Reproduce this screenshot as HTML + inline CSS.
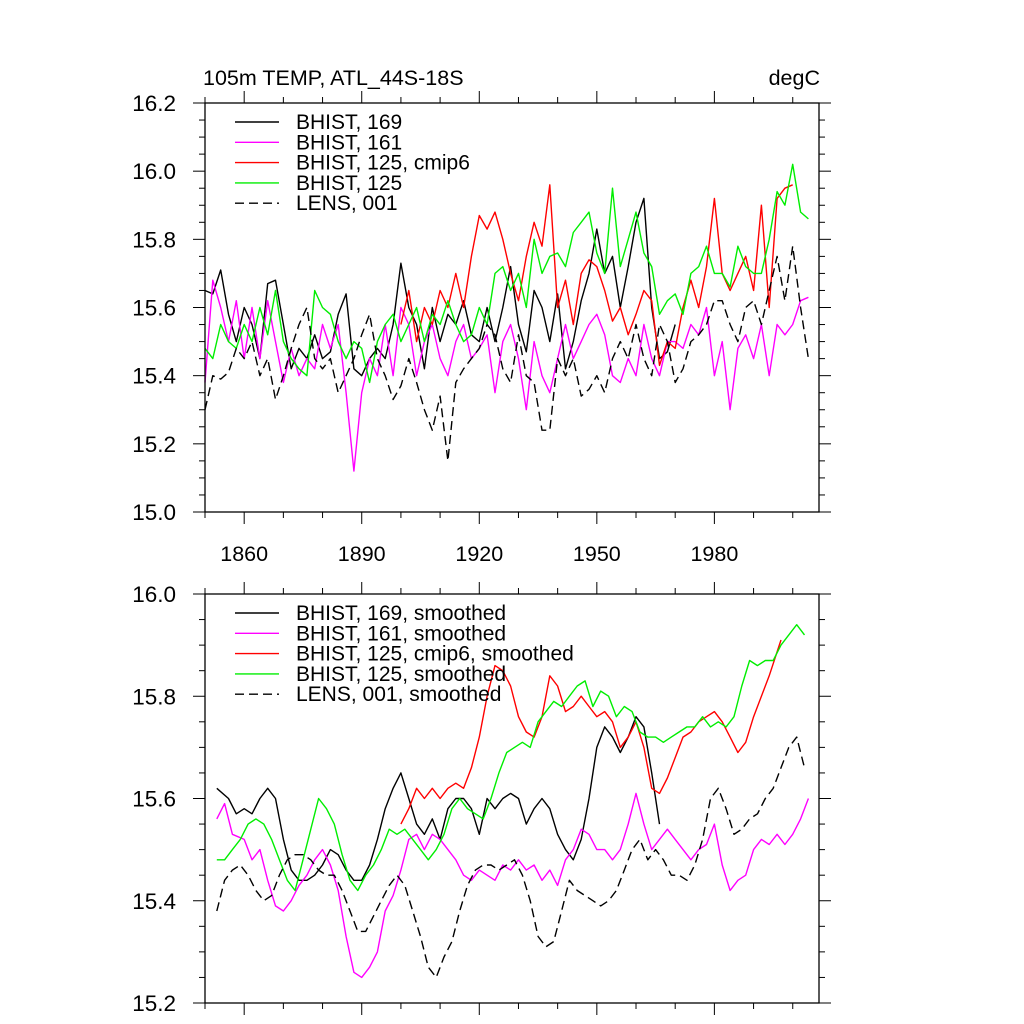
<!DOCTYPE html>
<html><head><meta charset="utf-8"><style>
html,body{margin:0;padding:0;background:#fff;}
svg{display:block;font-family:"Liberation Sans",sans-serif;}
</style></head><body>
<svg id="chart" width="1024" height="1024" viewBox="0 0 1024 1024" xmlns="http://www.w3.org/2000/svg">
<text x="203" y="85" font-size="21.5">105m TEMP, ATL_44S-18S</text>
<text x="820" y="85" font-size="21.5" text-anchor="end">degC</text>
<g id="top"></g>
<g id="bot"></g>
</svg>
<script>
// ---- data: top panel (annual, every 2 years) ----
const topYears = [];
for (let y = 1850; y <= 2004; y += 2) topYears.push(y);
const topBlack = [15.65,15.64,15.71,15.58,15.5,15.6,15.55,15.45,15.67,15.68,15.55,15.42,15.48,15.45,15.52,15.45,15.47,15.58,15.64,15.42,15.4,15.45,15.48,15.45,15.55,15.73,15.6,15.55,15.42,15.6,15.5,15.58,15.55,15.62,15.52,15.5,15.6,15.5,15.6,15.72,15.55,15.47,15.65,15.6,15.5,15.64,15.42,15.5,15.62,15.7,15.83,15.7,15.75,15.6,15.72,15.85,15.92,15.6,15.45,15.47,15.55];
const topMagenta = [15.38,15.68,15.6,15.5,15.62,15.45,15.6,15.45,15.62,15.5,15.38,15.48,15.4,15.45,15.42,15.55,15.48,15.55,15.35,15.12,15.35,15.45,15.4,15.55,15.4,15.6,15.55,15.4,15.5,15.55,15.45,15.4,15.5,15.55,15.45,15.48,15.52,15.35,15.5,15.55,15.45,15.3,15.5,15.4,15.35,15.45,15.55,15.45,15.5,15.55,15.58,15.52,15.4,15.38,15.45,15.4,15.55,15.45,15.4,15.5,15.5,15.48,15.55,15.52,15.6,15.4,15.5,15.3,15.48,15.52,15.45,15.55,15.4,15.55,15.52,15.55,15.62,15.63];
const redYears = [];
for (let y = 1900; y <= 2000; y += 2) redYears.push(y);
const topRed = [15.55,15.65,15.5,15.6,15.55,15.65,15.6,15.7,15.6,15.75,15.87,15.83,15.88,15.8,15.7,15.62,15.75,15.85,15.78,15.96,15.6,15.68,15.55,15.7,15.74,15.72,15.65,15.56,15.6,15.52,15.58,15.65,15.62,15.43,15.5,15.48,15.6,15.68,15.6,15.72,15.92,15.7,15.65,15.7,15.75,15.65,15.9,15.6,15.92,15.95,15.96];
const topGreen = [15.48,15.45,15.55,15.5,15.48,15.55,15.5,15.6,15.52,15.65,15.5,15.45,15.42,15.4,15.65,15.6,15.58,15.5,15.45,15.5,15.48,15.38,15.5,15.55,15.58,15.5,15.55,15.6,15.5,15.58,15.55,15.62,15.55,15.5,15.52,15.6,15.55,15.7,15.72,15.65,15.7,15.6,15.8,15.7,15.75,15.76,15.72,15.82,15.85,15.88,15.76,15.7,15.95,15.72,15.8,15.88,15.76,15.72,15.58,15.62,15.64,15.58,15.7,15.72,15.78,15.7,15.7,15.66,15.78,15.72,15.7,15.7,15.8,15.94,15.9,16.02,15.88,15.86];
const topLens = [15.3,15.4,15.39,15.41,15.48,15.45,15.5,15.4,15.45,15.33,15.4,15.48,15.55,15.6,15.45,15.42,15.45,15.35,15.4,15.45,15.52,15.58,15.45,15.4,15.33,15.37,15.45,15.38,15.3,15.24,15.34,15.15,15.38,15.42,15.45,15.48,15.55,15.52,15.42,15.38,15.52,15.4,15.38,15.24,15.24,15.45,15.4,15.45,15.34,15.36,15.4,15.35,15.45,15.5,15.45,15.55,15.45,15.4,15.55,15.5,15.38,15.42,15.5,15.52,15.55,15.62,15.62,15.55,15.5,15.6,15.62,15.55,15.65,15.75,15.62,15.78,15.6,15.45];
// ---- data: bottom panel (smoothed) ----
const botBlackYears = [1853,1856,1858,1860,1862,1864,1866,1868,1870,1872,1874,1876,1878,1880,1882,1884,1886,1888,1890,1892,1894,1896,1898,1900,1902,1904,1906,1908,1910,1912,1914,1916,1918,1920,1922,1924,1926,1928,1930,1932,1934,1936,1938,1940,1942,1944,1946,1948,1950,1952,1954,1956,1958,1960,1962,1964,1966];
const botBlack = [15.62,15.6,15.57,15.58,15.57,15.6,15.62,15.6,15.52,15.46,15.44,15.44,15.45,15.47,15.5,15.49,15.46,15.44,15.44,15.47,15.52,15.58,15.62,15.65,15.6,15.55,15.53,15.56,15.52,15.58,15.6,15.6,15.58,15.53,15.6,15.58,15.6,15.61,15.6,15.55,15.58,15.6,15.58,15.53,15.5,15.48,15.52,15.6,15.7,15.74,15.72,15.69,15.72,15.76,15.74,15.65,15.55];
const botMagentaYears = [1853,1855,1857,1860,1862,1864,1866,1868,1870,1872,1874,1876,1878,1880,1882,1884,1886,1888,1890,1892,1894,1896,1898,1900,1902,1904,1906,1908,1910,1912,1914,1916,1918,1920,1922,1924,1926,1928,1930,1932,1934,1936,1938,1940,1942,1944,1946,1948,1950,1952,1954,1956,1958,1960,1962,1964,1966,1968,1970,1972,1974,1976,1978,1980,1982,1984,1986,1988,1990,1992,1994,1996,1998,2000,2002,2004];
const botMagenta = [15.56,15.59,15.53,15.52,15.48,15.5,15.44,15.39,15.38,15.4,15.43,15.45,15.48,15.5,15.47,15.42,15.33,15.26,15.25,15.27,15.3,15.38,15.41,15.46,15.52,15.53,15.5,15.53,15.52,15.5,15.48,15.45,15.44,15.46,15.45,15.44,15.47,15.46,15.48,15.46,15.47,15.44,15.46,15.43,15.48,15.5,15.54,15.53,15.5,15.5,15.48,15.5,15.55,15.61,15.55,15.5,15.52,15.54,15.52,15.5,15.48,15.5,15.51,15.55,15.47,15.42,15.44,15.45,15.5,15.52,15.51,15.53,15.51,15.53,15.56,15.6];
const botRedYears = [1900,1902,1904,1906,1908,1910,1912,1914,1916,1918,1920,1922,1924,1926,1928,1930,1932,1934,1936,1938,1940,1942,1944,1946,1948,1950,1952,1954,1956,1958,1960,1962,1964,1966,1968,1970,1972,1974,1976,1978,1980,1982,1984,1986,1988,1990,1994,1997];
const botRed = [15.55,15.58,15.62,15.6,15.62,15.6,15.62,15.63,15.62,15.66,15.72,15.8,15.86,15.85,15.82,15.76,15.73,15.72,15.76,15.84,15.82,15.77,15.78,15.8,15.78,15.76,15.77,15.75,15.7,15.72,15.75,15.7,15.62,15.61,15.64,15.68,15.72,15.73,15.75,15.76,15.77,15.75,15.72,15.69,15.71,15.76,15.84,15.91];
const botGreenYears = [1853,1855,1857,1859,1861,1863,1865,1867,1869,1871,1873,1875,1877,1879,1881,1883,1885,1887,1889,1891,1893,1895,1897,1899,1901,1903,1905,1907,1909,1911,1913,1915,1917,1919,1921,1923,1925,1927,1929,1931,1933,1935,1937,1939,1941,1943,1945,1947,1949,1951,1953,1955,1957,1959,1961,1963,1965,1967,1969,1971,1973,1975,1977,1979,1981,1983,1985,1987,1989,1991,1993,1995,1997,1999,2001,2003];
const botGreen = [15.48,15.48,15.5,15.52,15.55,15.56,15.55,15.52,15.48,15.44,15.42,15.48,15.54,15.6,15.58,15.55,15.49,15.44,15.42,15.45,15.47,15.5,15.54,15.53,15.54,15.52,15.5,15.48,15.5,15.53,15.58,15.6,15.58,15.57,15.56,15.6,15.65,15.69,15.7,15.71,15.7,15.75,15.77,15.79,15.78,15.8,15.82,15.83,15.78,15.81,15.8,15.76,15.78,15.77,15.73,15.72,15.72,15.71,15.72,15.73,15.74,15.74,15.76,15.74,15.75,15.74,15.76,15.82,15.87,15.86,15.87,15.87,15.9,15.92,15.94,15.92];
const botLensYears = botGreenYears;
const botLens = [15.38,15.44,15.46,15.47,15.45,15.42,15.4,15.41,15.45,15.48,15.49,15.49,15.48,15.46,15.45,15.45,15.42,15.38,15.34,15.34,15.37,15.4,15.43,15.45,15.43,15.38,15.33,15.27,15.25,15.29,15.32,15.38,15.43,15.46,15.47,15.47,15.46,15.47,15.48,15.45,15.4,15.33,15.31,15.32,15.38,15.44,15.42,15.41,15.4,15.39,15.4,15.42,15.46,15.5,15.52,15.48,15.5,15.48,15.45,15.45,15.44,15.47,15.52,15.6,15.62,15.58,15.53,15.54,15.56,15.57,15.6,15.62,15.66,15.7,15.72,15.66];
const xTicks = [1860,1890,1920,1950,1980];
const topYTicks = ["15.0","15.2","15.4","15.6","15.8","16.0","16.2"];
const botYTicks = ["15.2","15.4","15.6","15.8","16.0"];
const topLegend = ["BHIST, 169","BHIST, 161","BHIST, 125, cmip6","BHIST, 125","LENS, 001"];
const botLegend = ["BHIST, 169, smoothed","BHIST, 161, smoothed","BHIST, 125, cmip6, smoothed","BHIST, 125, smoothed","LENS, 001, smoothed"];

const NS = "http://www.w3.org/2000/svg";
const L = 205, R = 819, X0 = 1850, X1 = 2006.7;
function sx(yr){ return L + (yr - X0) / (X1 - X0) * (R - L); }
function mk(tag, attrs, parent){ const e = document.createElementNS(NS, tag); for (const k in attrs) e.setAttribute(k, attrs[k]); parent.appendChild(e); return e; }
const colors = ["#000","#ff00ff","#ff0000","#00ee00","#000"];

function panel(g, T, B, ymin, ymax, yTicks, series, legend, legTop, showXLabels){
  const sy = v => B - (v - ymin) / (ymax - ymin) * (B - T);
  series.forEach((s, i) => {
    const d = s.years.map((yr, j) => (j ? "L" : "M") + sx(yr).toFixed(1) + " " + sy(s.vals[j]).toFixed(1)).join(" ");
    const p = mk("path", {d: d, fill: "none", stroke: colors[i], "stroke-width": 1.4, "stroke-linejoin": "round"}, g);
    if (i === 4) p.setAttribute("stroke-dasharray", "9 5");
    
    
  });
  const f = mk("rect", {x: L, y: T, width: R - L, height: B - T, fill: "none", stroke: "#000", "stroke-width": 1.3}, g);
  
  
  for (let v = ymin; v <= ymax + 1e-9; v += 0.05) {
    const major = Math.abs(v * 5 - Math.round(v * 5)) < 1e-6;
    const len = major ? 12 : 6, y = sy(v);
    mk("line", {x1: L, x2: L - len, y1: y, y2: y, stroke: "#000", "stroke-width": 1}, g);
    mk("line", {x1: R, x2: R + len, y1: y, y2: y, stroke: "#000", "stroke-width": 1}, g);
  }
  yTicks.forEach(t => {
    const tx = mk("text", {x: 176, y: sy(parseFloat(t)) + 8, "font-size": 22.5, "text-anchor": "end"}, g);
    tx.textContent = t;
    
    
  });
  for (let yr = 1850; yr <= 2006; yr += 10) {
    const major = (yr - 1860) % 30 === 0, len = major ? 12 : 6, x = sx(yr);
    mk("line", {x1: x, x2: x, y1: T, y2: T - len, stroke: "#000", "stroke-width": 1}, g);
    mk("line", {x1: x, x2: x, y1: B, y2: B + len, stroke: "#000", "stroke-width": 1}, g);
  }
  if (showXLabels) xTicks.forEach(t => {
    const tx = mk("text", {x: sx(t), y: 561, "font-size": 21.5, "text-anchor": "middle"}, g);
    tx.textContent = t;
    
    
  });
  legend.forEach((lab, i) => {
    const y = legTop + i * 20.3;
    const ln = mk("line", {x1: 235, x2: 279, y1: y, y2: y, stroke: colors[i], "stroke-width": 1.4}, g);
    if (i === 4) ln.setAttribute("stroke-dasharray", "9 5");
    
    
    const tx = mk("text", {x: 296, y: y + 7, "font-size": 21}, g);
    tx.textContent = lab;
    
    
  });
}

panel(document.getElementById("top"), 103, 512, 15.0, 16.2, topYTicks, [
  {years: topYears.slice(0, topBlack.length), vals: topBlack},
  {years: topYears, vals: topMagenta},
  {years: redYears, vals: topRed},
  {years: topYears, vals: topGreen},
  {years: topYears, vals: topLens}
], topLegend, 122, true);

panel(document.getElementById("bot"), 594, 1003, 15.2, 16.0, botYTicks, [
  {years: botBlackYears, vals: botBlack},
  {years: botMagentaYears, vals: botMagenta},
  {years: botRedYears, vals: botRed},
  {years: botGreenYears, vals: botGreen},
  {years: botLensYears, vals: botLens}
], botLegend, 613, false);
</script>
</body></html>
